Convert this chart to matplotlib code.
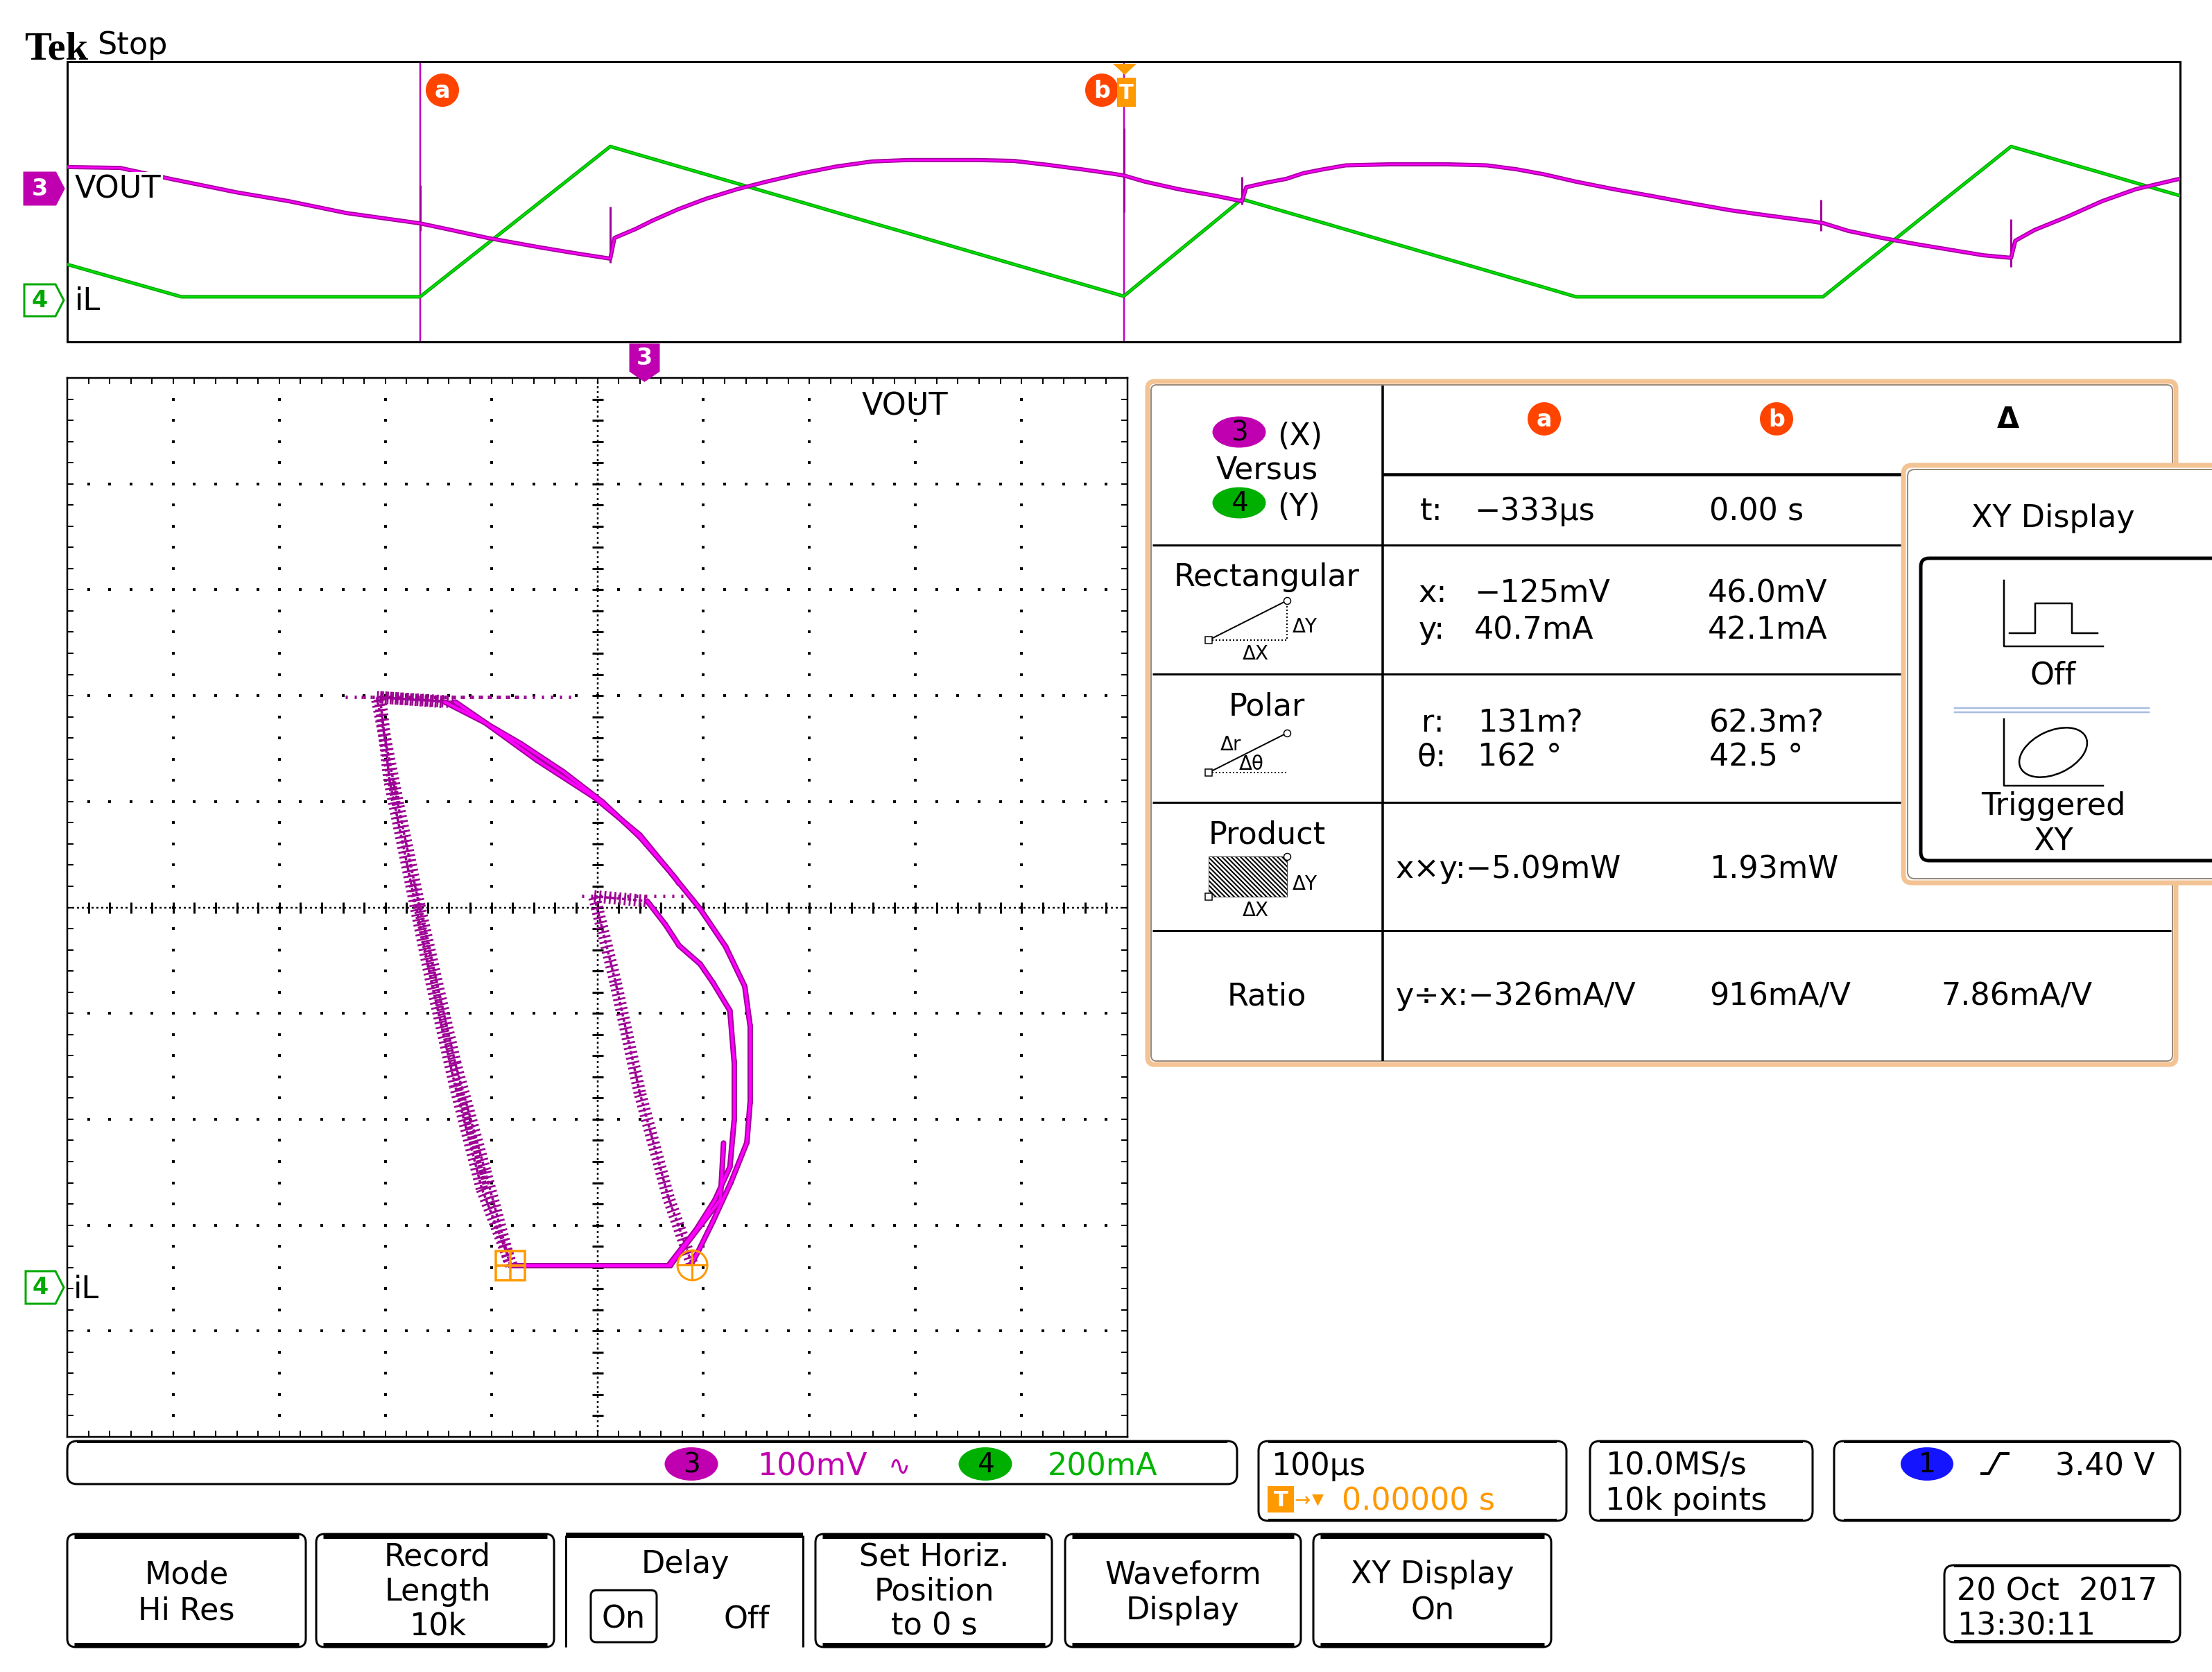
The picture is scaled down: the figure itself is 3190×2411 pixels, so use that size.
import numpy as np
import matplotlib
matplotlib.use('Agg')
import matplotlib.pyplot as plt
from matplotlib.patches import FancyBboxPatch, Ellipse, Polygon, Rectangle
from matplotlib.collections import LineCollection

plt.rcParams['hatch.linewidth'] = 1.5

# ---------------- data ----------------
t_us = [-500, -475, -450, -446, -420, -395, -368, -333, -318, -301, -276, -260, -243,
        -241, -231, -223, -211, -198, -183, -169, -152, -136, -119, -102, -86, -69, -52, -35, -18, -5, 0,
        10, 26, 43, 56, 58, 68, 77, 85, 93, 105, 127, 152, 172, 186, 199, 214,
        232, 249, 266, 287, 303, 323, 331, 343, 359, 375, 391, 407, 420,
        422, 431, 447, 463, 479, 498, 500]
vout_mV = [76, 73, 32, 26, -14, -46, -88, -125, -149, -177, -211, -231, -251,
           -177, -145, -115, -75, -38, -3, 24, 54, 78, 96, 101, 101, 101, 98, 83, 66, 52, 46,
           24, -3, -26, -46, 4, 21, 34, 54, 66, 82, 86, 86, 82, 68, 50, 24,
           -3, -26, -50, -78, -95, -115, -124, -152, -177, -199, -219, -239, -248,
           -187, -149, -100, -46, -3, 31, 34]
il_mA = [272, 165, 58, 41, 41, 41, 41, 41, 220, 422, 720, 911, 1114,
         1105, 1061, 1026, 973, 916, 850, 788, 714, 643, 568, 494, 423, 348, 273, 198, 124, 67, 45,
         169, 367, 577, 738, 729, 685, 645, 610, 575, 522, 425, 315, 227, 165, 108, 41,
         41, 41, 41, 41, 41, 41, 41, 186, 379, 572, 765, 957, 1114,
         1105, 1066, 995, 925, 854, 771, 762]

spike_t = [-333, -243, 0, 56, 330, 420]
spike_hi = [11, -65, 214, 41, -41, -110]
spike_lo = [-152, -266, -85, -58, -152, -281]
spike_il = [41, 1114, 45, 738, 41, 1114]

cursor_t = [-333, 0]
cursor_v = [-125, 46.0]
cursor_i = [40.7, 42.1]

# ---------------- figure ----------------
W, H, DPI = 3190, 2411, 100
PT = 72.0 / DPI
FONT = 'DejaVu Sans'
FS = 32
MAG = '#c000b0'
GRN = '#00a800'
ORG = '#ff9900'
RED = '#ff4400'

fig = plt.figure(figsize=(W / DPI, H / DPI), dpi=DPI)
fig.patch.set_facecolor('white')


def axes_px(x0, y0, x1, y1, **kw):
    return fig.add_axes([x0 / W, 1 - y1 / H, (x1 - x0) / W, (y1 - y0) / H], **kw)


ov = fig.add_axes([0, 0, 1, 1], zorder=10)
ov.set_xlim(0, W)
ov.set_ylim(H, 0)
ov.axis('off')
ov.patch.set_visible(False)


def txt(x, y, s, size=FS, color='k', ha='left', va='baseline', fam=FONT, **kw):
    ov.text(x, y, s, fontsize=size, color=color, ha=ha, va=va, family=fam, **kw)


def rbox(x0, y0, x1, y1, r=12, ec='k', lw=3, fc='none', z=1):
    p = FancyBboxPatch((x0 + r, y0 + r), (x1 - x0) - 2 * r, (y1 - y0) - 2 * r,
                       boxstyle=f'round,pad={r}', ec=ec, fc=fc, lw=lw * PT, zorder=z)
    ov.add_patch(p)


def hline(x0, x1, y, lw=3, color='k', z=2, **kw):
    ov.plot([x0, x1], [y, y], color=color, lw=lw * PT, zorder=z, solid_capstyle='butt', **kw)


def vline(x, y0, y1, lw=3, color='k', z=2, **kw):
    ov.plot([x, x], [y0, y1], color=color, lw=lw * PT, zorder=z, solid_capstyle='butt', **kw)


def ch_marker(x0, y0, x1, y1, label, color, filled=True, down=False):
    if down:
        xm = (x0 + x1) / 2
        pts = [(x0, y0), (x1, y0), (x1, y1 - 14), (xm, y1), (x0, y1 - 14)]
    else:
        ym = (y0 + y1) / 2
        pts = [(x0, y0), (x1 - 12, y0), (x1, ym), (x1 - 12, y1), (x0, y1)]
    ov.add_patch(Polygon(pts, closed=True, fc=color if filled else 'white', ec=color,
                         lw=3 * PT, zorder=5))
    cx = (x0 + x1 - (0 if down else 12)) / 2
    cy = (y0 + y1 - (14 if down else 0)) / 2
    ov.text(cx, cy, label, fontsize=24, color='white' if filled else color, ha='center',
            va='center', family=FONT, fontweight='bold', zorder=6)


def circ_label(cx, cy, s, fc, tc='white', w=48, h=48, size=24):
    ov.add_patch(Ellipse((cx, cy), w, h, fc=fc, ec='none', zorder=5))
    ov.text(cx, cy + 1, s, fontsize=size, color=tc, ha='center', va='center', family=FONT,
            fontweight='bold', zorder=6)


# ---------------- header ----------------
txt(35, 85, 'Tek', size=42, fam='Liberation Serif', fontweight='bold')
txt(140, 78, 'Stop', size=FS)

# ---------------- YT panel ----------------
ax_i = axes_px(97, 89, 3144, 493)
ax_i.set_xlim(-500, 500)
ax_i.set_ylim(-281, 1719)
ax_v = ax_i.twinx()
ax_v.set_ylim(-548, 452)
for a in (ax_i, ax_v):
    a.set_xticks([])
    a.set_yticks([])
for s in ax_i.spines.values():
    s.set_linewidth(3 * PT)
for s in ax_v.spines.values():
    s.set_visible(False)
ax_v.patch.set_visible(False)

for tc in cursor_t:
    ax_i.axvline(tc, color='#c000c0', lw=2.5 * PT, zorder=1)
ax_i.plot(t_us, il_mA, color='#00a000', lw=5 * PT, zorder=3)
ax_i.plot(t_us, il_mA, color='#00e000', lw=2.5 * PT, zorder=3)
ax_v.vlines(spike_t, spike_lo, spike_hi, color='#a0009a', lw=3 * PT, zorder=2)
ax_v.plot(t_us, vout_mV, color='#a3009b', lw=6 * PT, zorder=3)
ax_v.plot(t_us, vout_mV, color='#ff00ff', lw=2.5 * PT, zorder=4)

ch_marker(35, 249, 92, 295, '3', MAG)
ov.text(108, 285, 'VOUT', fontsize=FS, ha='left', va='baseline', family=FONT, zorder=6,
        bbox=dict(fc='white', ec='none', pad=2))
ch_marker(35, 410, 92, 456, '4', GRN, filled=False)
txt(108, 447, 'iL')
circ_label(638, 130, 'a', RED)
circ_label(1589, 130, 'b', RED)
ov.add_patch(Rectangle((1611, 112), 27, 42, fc=ORG, ec='none', zorder=5))
ov.text(1624.5, 134, 'T', fontsize=22, color='white', ha='center', va='center',
        family=FONT, fontweight='bold', zorder=6)
ov.add_patch(Polygon([(1605, 92), (1639, 92), (1622, 108)], closed=True, fc=ORG, ec='none', zorder=5))

# ---------------- XY panel ----------------
ax = axes_px(97, 545, 1626, 2072)
xl = (-543, 457)
yl = (-283, 1717)
ax.set_xlim(*xl)
ax.set_ylim(*yl)
for s in ax.spines.values():
    s.set_linewidth(2.5 * PT)
dxd = (xl[1] - xl[0]) / 10
dyd = (yl[1] - yl[0]) / 10
minor_x = xl[0] + np.arange(1, 50) * dxd / 5
minor_y = yl[0] + np.arange(1, 50) * dyd / 5
ax.set_xticks(xl[0] + np.arange(1, 10) * dxd)
ax.set_yticks(yl[0] + np.arange(1, 10) * dyd)
ax.set_xticks(minor_x, minor=True)
ax.set_yticks(minor_y, minor=True)
ax.tick_params(which='both', direction='in', length=9 * PT, width=2 * PT, top=True, right=True,
               labelbottom=False, labelleft=False, colors='k')
xc = xl[0] + 5 * dxd
yc = yl[0] + 5 * dyd
for k in range(1, 10):
    if k == 5:
        continue
    gx = xl[0] + k * dxd
    gy = yl[0] + k * dyd
    ax.plot(np.full(minor_y.size, gx), minor_y, ls='none', marker='s', ms=3.5 * PT, mew=0,
            color='k', zorder=1)
    ax.plot(minor_x, np.full(minor_x.size, gy), ls='none', marker='s', ms=3.5 * PT, mew=0,
            color='k', zorder=1)
ax.axvline(xc, color='k', lw=2.5 * PT, ls=(0, (1.2, 1.6)), zorder=1)
ax.axhline(yc, color='k', lw=2.5 * PT, ls=(0, (1.2, 1.6)), zorder=1)
ax.plot(np.full(minor_y.size, xc), minor_y, ls='none', marker='_', ms=16 * PT, mew=3 * PT,
        color='k', zorder=1)
ax.plot(minor_x, np.full(minor_x.size, yc), ls='none', marker='|', ms=16 * PT, mew=3 * PT,
        color='k', zorder=1)

v = np.asarray(vout_mV, float)
i = np.asarray(il_mA, float)
tt = np.asarray(t_us, float)
pts = np.column_stack([v, i])
segs = np.stack([pts[:-1], pts[1:]], axis=1)
fast = (np.diff(i) > 0) | (np.abs(np.diff(v)) / np.diff(tt) > 10)
slow = ~fast
ax.add_collection(LineCollection(segs[fast], colors='#9a0090', linewidths=18 * PT,
                                 linestyles=[(0, (0.15, 0.25))], zorder=3))
ax.add_collection(LineCollection(segs[fast], colors='#a0009a', linewidths=3.5 * PT,
                                 linestyles=[(0, (1.5, 0.8))], zorder=3))
ax.add_collection(LineCollection(segs[slow], colors='#a0009a', linewidths=8 * PT, zorder=3,
                                 capstyle='round'))
ax.add_collection(LineCollection(segs[slow], colors='#ff00ff', linewidths=4 * PT, zorder=4,
                                 capstyle='round'))
sil = np.asarray(spike_il, float)
m = sil > 100
ax.hlines(sil[m], np.asarray(spike_lo)[m], np.asarray(spike_hi)[m], color='#9a0090',
          lw=5 * PT, linestyles=[(0, (0.6, 2.0))], zorder=3)
ax.plot(cursor_v[0], cursor_i[0], marker='s', ms=43 * PT, mfc='none', mec=ORG, mew=3.5 * PT, zorder=6)
ax.plot(cursor_v[0], cursor_i[0], marker='+', ms=43 * PT, mec=ORG, mew=3.5 * PT, zorder=6)
ax.plot(cursor_v[1], cursor_i[1], marker='o', ms=43 * PT, mfc='none', mec=ORG, mew=3 * PT, zorder=6)
ax.plot(cursor_v[1], cursor_i[1], marker='+', ms=43 * PT, mec=ORG, mew=3 * PT, zorder=6)

txt(1243, 598, 'VOUT')
ch_marker(909, 497, 950, 549, '3', MAG, down=True)
ch_marker(37, 1833, 92, 1880, '4', GRN, filled=False)
txt(106, 1872, 'iL')

# ---------------- measurement table ----------------
rbox(1655, 550, 3138, 1535, r=10, ec='#f3c394', lw=7, fc='white', z=1)
rbox(1660, 555, 3133, 1530, r=8, ec='#9a8a7a', lw=2, z=1)
vline(1994, 556, 1530, lw=3.5)
hline(1994, 2745, 684, lw=4.5)
for yy in (786, 972, 1157):
    hline(1662, 2745, yy, lw=3)
hline(1662, 3131, 1342, lw=3)

ov.add_patch(Ellipse((1787, 623), 77, 45, fc=MAG, ec='none', zorder=5))
txt(1787, 624, '3', size=28, ha='center', va='center', zorder=6)
txt(1842, 642, '(X)')
txt(1827, 690, 'Versus', ha='center')
ov.add_patch(Ellipse((1787, 725), 77, 45, fc='#00b000', ec='none', zorder=5))
txt(1787, 726, '4', size=28, ha='center', va='center', zorder=6)
txt(1842, 744, '(Y)')

txt(1827, 845, 'Rectangular', ha='center')
ov.plot([1743, 1856], [923, 866], color='k', lw=2 * PT, zorder=3)
ov.plot([1743, 1856, 1856], [923, 923, 866], color='k', lw=2 * PT, ls=(0, (1, 1.5)), zorder=3)
ov.plot([1743], [923], marker='s', ms=10 * PT, mfc='white', mec='k', mew=1.5 * PT, zorder=4)
ov.plot([1856], [866], marker='o', ms=10 * PT, mfc='white', mec='k', mew=1.5 * PT, zorder=4)
txt(1864, 912, 'ΔY', size=20)
txt(1811, 951, 'ΔX', size=20, ha='center')

txt(1827, 1031, 'Polar', ha='center')
ov.plot([1743, 1856], [1114, 1057], color='k', lw=2 * PT, zorder=3)
ov.plot([1743, 1856], [1114, 1114], color='k', lw=2 * PT, ls=(0, (1, 1.5)), zorder=3)
ov.plot([1743], [1114], marker='s', ms=10 * PT, mfc='white', mec='k', mew=1.5 * PT, zorder=4)
ov.plot([1856], [1057], marker='o', ms=10 * PT, mfc='white', mec='k', mew=1.5 * PT, zorder=4)
txt(1760, 1082, 'Δr', size=20)
txt(1787, 1110, 'Δθ', size=20)

txt(1827, 1216, 'Product', ha='center')
ov.add_patch(Rectangle((1743, 1235), 113, 58, fc='white', ec='k', hatch='\\\\\\\\\\', lw=0.5, zorder=3))
ov.plot([1743], [1293], marker='s', ms=10 * PT, mfc='white', mec='k', mew=1.5 * PT, zorder=4)
ov.plot([1856], [1235], marker='o', ms=10 * PT, mfc='white', mec='k', mew=1.5 * PT, zorder=4)
txt(1864, 1283, 'ΔY', size=20)
txt(1811, 1321, 'ΔX', size=20, ha='center')

txt(1827, 1449, 'Ratio', ha='center')

circ_label(2227, 604, 'a', RED)
circ_label(2562, 604, 'b', RED)
txt(2896, 617, 'Δ', size=30, ha='center', fontweight='bold')

txt(2048, 750, 't:')
txt(2126, 750, '−333µs')
txt(2465, 750, '0.00 s')
txt(2046, 868, 'x:')
txt(2126, 868, '−125mV')
txt(2463, 868, '46.0mV')
txt(2046, 921, 'y:')
txt(2126, 921, '40.7mA')
txt(2463, 921, '42.1mA')
txt(2050, 1055, 'r:')
txt(2131, 1055, '131m?')
txt(2465, 1055, '62.3m?')
txt(2043, 1104, 'θ:')
txt(2131, 1104, '162 °')
txt(2465, 1104, '42.5 °')
txt(2013, 1266, 'x×y:−5.09mW')
txt(2465, 1266, '1.93mW')
txt(2013, 1449, 'y÷x:−326mA/V')
txt(2465, 1449, '916mA/V')
txt(2799, 1449, '7.86mA/V')

# XY Display popup
rbox(2745, 671, 3300, 1273, r=12, ec='#f3c394', lw=7, fc='white', z=7)
rbox(2751, 677, 3300, 1267, r=10, ec='#9a8a7a', lw=2, z=7)
ov.text(2961, 760, 'XY Display', fontsize=FS, ha='center', va='baseline', family=FONT, zorder=8)
rbox(2770, 805, 3300, 1241, r=12, ec='k', lw=5, z=8)
ov.plot([2890, 2890, 3033], [837, 932, 932], color='k', lw=2.5 * PT, zorder=8)
ov.plot([2898, 2935, 2935, 2988, 2988, 3025], [913, 913, 870, 870, 913, 913], color='k',
        lw=2.5 * PT, zorder=8)
ov.text(2961, 986, 'Off', fontsize=FS, ha='center', va='baseline', family=FONT, zorder=8)
ov.plot([2819, 3099], [1021, 1021], color='#a8bce0', lw=2.5 * PT, zorder=8)
ov.plot([2819, 3099], [1027, 1027], color='#a8bce0', lw=2.5 * PT, zorder=8)
ov.plot([2890, 2890, 3033], [1037, 1133, 1133], color='k', lw=2.5 * PT, zorder=8)
ov.add_patch(Ellipse((2961, 1085), 104, 62, angle=-25, fc='none', ec='k', lw=2.5 * PT, zorder=8))
ov.text(2961, 1175, 'Triggered', fontsize=FS, ha='center', va='baseline', family=FONT, zorder=8)
ov.text(2961, 1226, 'XY', fontsize=FS, ha='center', va='baseline', family=FONT, zorder=8)

# ---------------- status bars ----------------
rbox(97, 2078, 1784, 2140, r=14, lw=3)
hline(111, 1770, 2079, lw=4)
ov.add_patch(Ellipse((997, 2111), 77, 48, fc=MAG, ec='none', zorder=5))
txt(997, 2112, '3', size=28, ha='center', va='center', zorder=6)
txt(1092, 2127, '100mV', color=MAG)
txt(1281, 2127, '∿', color=MAG, size=28)
ov.add_patch(Ellipse((1421, 2111), 77, 48, fc='#00b000', ec='none', zorder=5))
txt(1421, 2112, '4', size=28, ha='center', va='center', zorder=6)
txt(1511, 2127, '200mA', color='#00b400')

rbox(1815, 2078, 2259, 2193, r=14, lw=3)
hline(1829, 2245, 2079, lw=4)
hline(1829, 2245, 2192, lw=4)
txt(1833, 2127, '100µs')
ov.add_patch(Rectangle((1828, 2143), 38, 38, fc=ORG, ec='none', zorder=5))
ov.text(1847, 2163, 'T', fontsize=22, color='white', ha='center', va='center', family=FONT,
        fontweight='bold', zorder=6)
txt(1866, 2172, '→', color=ORG, size=20)
txt(1892, 2168, '▼', color=ORG, size=16)
txt(1935, 2177, '0.00000 s', color=ORG)

rbox(2293, 2078, 2614, 2193, r=14, lw=3)
hline(2307, 2600, 2079, lw=4)
hline(2307, 2600, 2192, lw=4)
txt(2315, 2127, '10.0MS/s')
txt(2315, 2177, '10k points')

rbox(2645, 2078, 3144, 2193, r=14, lw=3)
hline(2659, 3130, 2079, lw=4)
hline(2659, 3130, 2192, lw=4)
ov.add_patch(Ellipse((2779, 2111), 76, 48, fc='#1414ff', ec='none', zorder=5))
txt(2779, 2112, '1', size=28, ha='center', va='center', zorder=6)
ov.plot([2858, 2868, 2884, 2896], [2125, 2125, 2096, 2096], color='k', lw=4 * PT, zorder=5)
txt(2964, 2127, '3.40 V')

# buttons
buttons = [(97, 441), (456, 799), (816, 1158), (1176, 1517), (1536, 1876), (1894, 2237)]
for k, (bx0, bx1) in enumerate(buttons):
    if k == 2:
        vline(bx0, 2214, 2375, lw=3)
        vline(bx1, 2214, 2375, lw=3)
        hline(bx0, bx1, 2214, lw=8)
        continue
    rbox(bx0, 2212, bx1, 2375, r=12, lw=3)
    hline(bx0 + 10, bx1 - 10, 2215, lw=7)
    hline(bx0 + 10, bx1 - 10, 2372, lw=7)

txt(269, 2283, 'Mode', ha='center')
txt(269, 2335, 'Hi Res', ha='center')
txt(631, 2257, 'Record', ha='center')
txt(631, 2308, 'Length', ha='center')
txt(631, 2358, '10k', ha='center')
txt(988, 2268, 'Delay', ha='center')
rbox(852, 2293, 947, 2368, r=8, lw=3)
txt(899, 2347, 'On', ha='center')
txt(1077, 2347, 'Off', ha='center')
txt(1347, 2257, 'Set Horiz.', ha='center')
txt(1347, 2308, 'Position', ha='center')
txt(1347, 2358, 'to 0 s', ha='center')
txt(1706, 2283, 'Waveform', ha='center')
txt(1706, 2335, 'Display', ha='center')
txt(2066, 2283, 'XY Display', ha='center')
txt(2066, 2335, 'On', ha='center')

rbox(2804, 2257, 3144, 2368, r=14, lw=3)
hline(2818, 3130, 2258, lw=4)
hline(2818, 3130, 2367, lw=4)
txt(2822, 2308, '20 Oct  2017')
txt(2822, 2357, '13:30:11')

fig.savefig('out.png', dpi=DPI, facecolor='white')
